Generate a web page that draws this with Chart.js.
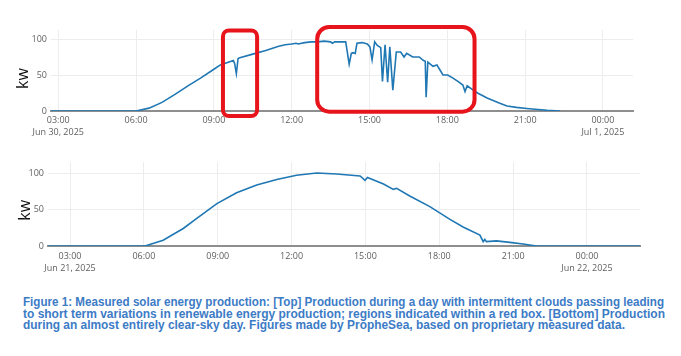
<!DOCTYPE html>
<html>
<head>
<meta charset="utf-8">
<script src="https://cdn.jsdelivr.net/npm/chart.js"></script>
<style>
  html, body { margin: 0; padding: 0; background: #fff; }
  body { width: 681px; height: 356px; position: relative; overflow: hidden; }
  canvas { position: absolute; left: 0; }
  #c1 { top: 0; }
  #c2 { top: 145px; }
  .cap { position: absolute; left: 23px; white-space: nowrap; transform-origin: 0 0;
         font-family: "Liberation Sans Narrow", "Arial Narrow", "Liberation Sans", Arial, sans-serif;
         font-weight: bold; font-size: 12.5px; line-height: 11.7px; color: #3c7bc6; }
</style>
</head>
<body>
<canvas id="c1" width="681" height="145"></canvas>
<canvas id="c2" width="681" height="140"></canvas>
<div class="cap" id="l1" style="top:297px">Figure 1: Measured solar energy production: [Top] Production during a day with intermittent clouds passing leading</div>
<div class="cap" id="l2" style="top:308.7px">to short term variations in renewable energy production; regions indicated within a red box. [Bottom] Production</div>
<div class="cap" id="l3" style="top:320.4px">during an almost entirely clear-sky day. Figures made by PropheSea, based on proprietary measured data.</div>
<script>
// ---------- data ----------
const topTimes = ["02:43","06:00","06:30","07:00","07:30","08:00","08:30","09:00","09:15","09:30","09:40","09:45","09:48","09:52","09:56","10:00","10:30","11:00","11:30","11:45","12:00","12:10","12:15","12:30","12:45","13:00","13:15","13:30","13:34","13:40","14:05","14:13","14:18","14:22","14:27","14:31","14:43","14:55","15:01","15:06","15:12","15:18","15:26","15:30","15:36","15:42","15:47","15:54","16:02","16:12","16:20","16:26","16:40","16:55","17:05","17:09","17:11","17:15","17:27","17:36","17:42","17:50","18:01","18:15","18:27","18:36","18:41","18:46","19:00","19:10","19:32","20:00","20:18","20:40","21:04","21:30","21:51","22:21"];
const topValues = [0,0,4,12,23,35,46,58,64,67,69,70,66,52,73,74,79,84,90,92,93,94,93,95,96,96,97,96,94,96,96,65,80,81,80,94,95,93,89,71,96,91,88,41,92,40,89,29,82,82,75,80,75,75,70,69,19,68,62,64,58,50,50,45,40,36,27,35,29,25,18,11,7,5,3.5,2,1,0];

const bottomTimes = ["02:07","06:03","06:47","07:36","08:09","08:58","09:46","10:35","11:24","12:12","13:01","13:50","14:47","14:59","15:05","15:44","16:08","16:16","16:48","17:37","18:26","18:58","19:39","19:47","19:51","19:55","20:19","20:52","21:24","21:57","26:09"];
const bottomValues = [0,0,8,24,38,58,73,83.5,91,97,100,98.6,96,90,94,85,77.6,79,68.5,54,36.5,26,15,6,9,6,7,5,2.7,0,0];

const xTickHours = [3,6,9,12,15,18,21,24];
const xTickLabels = ["03:00","06:00","09:00","12:00","15:00","18:00","21:00","00:00"];
const topDateLabels = {3: "Jun 30, 2025", 24: "Jul 1, 2025"};
const bottomDateLabels = {3: "Jun 21, 2025", 24: "Jun 22, 2025"};
const yTickValues = [0,50,100];
const yTitle = "kw";

// highlighted regions (time start, time end, value low, value high)
const boxStarts = ["09:21","12:59"];
const boxEnds = ["10:40","19:03"];
const boxLows = [-7,-1];
const boxHighs = [111.8,116.7];

// ---------- helpers ----------
function toHours(s){ const p = s.split(":"); return +p[0] + (+p[1])/60; }
function pts(times, vals){ return times.map((t,i)=>({x: toHours(t), y: vals[i]})); }

const redBoxes = {
  id: 'redBoxes',
  afterDatasetsDraw(chart, args, opts){
    if(!opts.show) return;
    const ctx = chart.ctx, xs = chart.scales.x, ys = chart.scales.y;
    ctx.save();
    ctx.strokeStyle = '#e8141c'; ctx.lineWidth = 4; ctx.lineJoin = 'round';
    boxStarts.forEach((s,i)=>{
      const x1 = xs.getPixelForValue(toHours(s)), x2 = xs.getPixelForValue(toHours(boxEnds[i]));
      const y1 = ys.getPixelForValue(boxHighs[i]), y2 = ys.getPixelForValue(boxLows[i]);
      const r = i === 0 ? 6 : 12;
      ctx.beginPath();
      ctx.moveTo(x1 + r, y1);
      ctx.arcTo(x2, y1, x2, y2, r);
      ctx.arcTo(x2, y2, x1, y2, r);
      ctx.arcTo(x1, y2, x1, y1, r);
      ctx.arcTo(x1, y1, x2, y1, r);
      ctx.closePath();
      ctx.stroke();
    });
    ctx.restore();
  }
};

const yTitlePlugin = {
  id: 'yTitle',
  afterDraw(chart, args, opts){
    const ctx = chart.ctx;
    ctx.save();
    ctx.translate(opts.x, opts.y);
    ctx.rotate(-Math.PI/2);
    ctx.font = '16px "Open Sans"';
    ctx.fillStyle = '#111';
    ctx.textAlign = 'center';
    ctx.textBaseline = 'alphabetic';
    ctx.fillText(yTitle, 0, 0);
    ctx.restore();
  }
};

function makeChart(id, data, cfg){
  return new Chart(document.getElementById(id), {
    type: 'line',
    data: { datasets: [{ data: data, borderColor: '#1f77b4', borderWidth: 1.6, pointRadius: 0, tension: 0, fill: false }] },
    options: {
      responsive: false, animation: false, devicePixelRatio: 1,
      layout: { padding: { top: cfg.top, right: cfg.right, left: 0, bottom: 0 } },
      plugins: { legend: { display: false }, tooltip: { enabled: false },
                 redBoxes: { show: cfg.boxes }, yTitle: { x: cfg.titleX, y: cfg.titleY } },
      scales: {
        x: {
          type: 'linear', min: cfg.xmin, max: cfg.xmax,
          afterBuildTicks: s => { s.ticks = xTickHours.map(v => ({value: v})); },
          afterFit: s => { s.height = cfg.xh; s.paddingLeft = 0; s.paddingRight = 0; },
          grid: { color: '#ededed', lineWidth: 1, drawTicks: false },
          border: { display: true, color: '#8e8e8e', width: 2 },
          ticks: {
            autoSkip: false, maxRotation: 0, padding: cfg.tp, color: '#5f5f5f',
            font: { family: '"Open Sans"', size: 9, lineHeight: 1.3 },
            callback: (v) => {
              const i = xTickHours.indexOf(v);
              const lab = xTickLabels[i];
              return cfg.dates[v] ? [lab, cfg.dates[v]] : lab;
            }
          }
        },
        y: {
          min: 0, max: cfg.ymax,
          afterBuildTicks: s => { s.ticks = yTickValues.map(v => ({value: v})); },
          afterFit: s => { s.width = cfg.yw; s.paddingTop = 0; s.paddingBottom = 0; },
          grid: { color: '#ededed', lineWidth: 1, drawTicks: false },
          border: { display: false },
          ticks: { padding: 4, color: '#5f5f5f', font: { family: '"Open Sans"', size: 9 } }
        }
      }
    },
    plugins: [redBoxes, yTitlePlugin]
  });
}

makeChart('c1', pts(topTimes, topValues), {
  top: 30, right: 48, xmin: 2.72, xmax: 25.16, ymax: 112.5, xh: 34, yw: 51, tp: 4,
  dates: topDateLabels, boxes: true, titleX: 28, titleY: 78.5
});
makeChart('c2', pts(bottomTimes, bottomValues), {
  top: 17, right: 41, xmin: 2.106, xmax: 26.153, ymax: 115.1, xh: 39, yw: 48, tp: 5,
  dates: bottomDateLabels, boxes: false, titleX: 30, titleY: 65.3
});

// caption line fitting
const capWidths = [641, 642, 602];
['l1','l2','l3'].forEach((id,i)=>{
  const el = document.getElementById(id);
  const w = el.getBoundingClientRect().width;
  el.style.transform = 'scaleX(' + (capWidths[i]/w) + ')';
});
</script>
</body>
</html>
